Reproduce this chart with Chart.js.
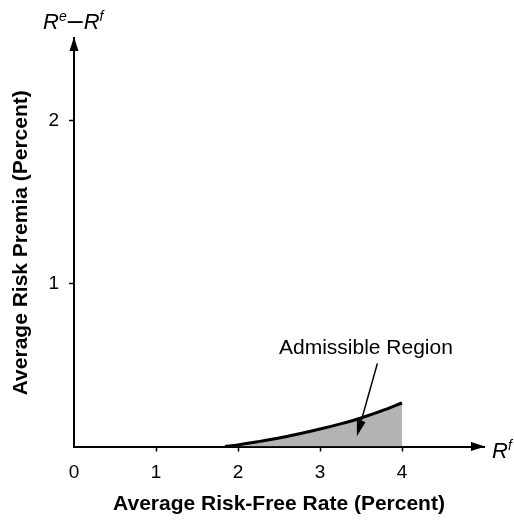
<!DOCTYPE html>
<html lang="en">

<head>
    <meta charset="UTF-8">
    <title>Admissible Region</title>
    <script src="https://cdn.jsdelivr.net/npm/chart.js"></script>
    <style>
        body { margin: 0; background: #fff; }
        #wrap { width: 514px; height: 523px; }
    </style>
</head>

<body>
    <div id="wrap"><canvas id="chartCanvas"></canvas></div>

    <script>
        // curve bounding the admissible region (risk-free rate vs. risk premium, percent)
        const curveX = [1.84, 2.0, 2.25, 2.5, 2.75, 3.0, 3.25, 3.5, 3.75, 4.0];
        const curveY = [0, 0.01, 0.03, 0.052, 0.078, 0.107, 0.139, 0.175, 0.218, 0.267];
        const xTickValues = [0, 1, 2, 3, 4];
        const yTickValues = [1, 2];

        const FONT = '"Liberation Sans", Arial, Helvetica, sans-serif';

        // annotation placement in data units
        const labelText = "Admissible Region";
        const labelAt = { x: 3.56, y: 0.6 };
        const pointerFrom = { x: 3.70, y: 0.51 };
        const pointerTo = { x: 3.45, y: 0.063 };

        function arrowHead(ctx, fx, fy, tx, ty, len, half) {
            const ang = Math.atan2(ty - fy, tx - fx);
            const bx = tx - len * Math.cos(ang), by = ty - len * Math.sin(ang);
            ctx.beginPath();
            ctx.moveTo(tx, ty);
            ctx.lineTo(bx + half * Math.sin(ang), by - half * Math.cos(ang));
            ctx.lineTo(bx - half * Math.sin(ang), by + half * Math.cos(ang));
            ctx.closePath();
            ctx.fill();
        }

        // draws math-ish labels, parts = [[text, sup?, plainFont?], ...]
        function drawMath(ctx, parts, x, base) {
            parts.forEach(([t, sup, plain]) => {
                if (plain) ctx.font = '27px ' + FONT;
                else ctx.font = 'italic ' + (sup ? '14px ' : '22px ') + FONT;
                ctx.fillText(t, x, sup ? base - 8 : base);
                x += ctx.measureText(t).width + (sup ? 1 : 0) + (plain ? 1 : 0);
            });
        }

        const overlay = {
            id: 'overlay',
            afterDraw(chart) {
                const { ctx, chartArea: a, scales: { x, y } } = chart;
                const y0 = y.getPixelForValue(0);
                const x0 = x.getPixelForValue(0);
                ctx.save();
                ctx.fillStyle = '#000';
                ctx.strokeStyle = '#000';

                // axis arrows
                ctx.lineWidth = 2;
                ctx.beginPath();
                ctx.moveTo(x0, a.top + 5);
                ctx.lineTo(x0, a.top - 2);
                ctx.stroke();
                arrowHead(ctx, x0, a.top + 20, x0, a.top - 2, 14, 4.5);
                arrowHead(ctx, a.right - 20, y0, a.right + 1, y0, 14, 4.5);

                // axis symbols
                ctx.textAlign = 'left';
                ctx.textBaseline = 'alphabetic';
                drawMath(ctx, [['R'], ['e', true], ['\u2013', false, true], ['R'], ['f', true]], 43, 29);
                drawMath(ctx, [['R'], ['f', true]], 492, 458);

                // annotation
                ctx.font = '21px ' + FONT;
                ctx.textAlign = 'center';
                ctx.textBaseline = 'middle';
                ctx.fillText(labelText, x.getPixelForValue(labelAt.x), y.getPixelForValue(labelAt.y));

                const fx = x.getPixelForValue(pointerFrom.x), fy = y.getPixelForValue(pointerFrom.y);
                const tx = x.getPixelForValue(pointerTo.x), ty = y.getPixelForValue(pointerTo.y);
                ctx.lineWidth = 1.5;
                ctx.beginPath();
                ctx.moveTo(fx, fy);
                ctx.lineTo(fx + (tx - fx) * 0.85, fy + (ty - fy) * 0.85);
                ctx.stroke();
                arrowHead(ctx, fx, fy, tx, ty, 16, 4.5);
                ctx.restore();
            }
        };

        const ctx = document.getElementById("chartCanvas").getContext("2d");
        new Chart(ctx, {
            type: "line",
            data: {
                datasets: [{
                    data: curveX.map((v, i) => ({ x: v, y: curveY[i] })),
                    borderColor: "#000",
                    borderWidth: 3,
                    backgroundColor: "#b3b3b3",
                    fill: "origin",
                    pointRadius: 0,
                    cubicInterpolationMode: "monotone"
                }]
            },
            options: {
                responsive: true,
                maintainAspectRatio: false,
                animation: false,
                layout: { padding: { top: 39, right: 30, left: 0, bottom: 0 } },
                plugins: { legend: { display: false }, tooltip: { enabled: false } },
                scales: {
                    x: {
                        type: "linear",
                        min: 0,
                        max: 5,
                        afterBuildTicks: s => { s.ticks = xTickValues.map(v => ({ value: v })); },
                        afterFit: s => { s.height = 76.5; },
                        border: { display: true, color: "#000", width: 2 },
                        grid: {
                            drawOnChartArea: false,
                            drawTicks: true,
                            tickLength: 5,
                            tickWidth: 1.5,
                            tickColor: c => (c.tick && c.tick.value === 0 ? "rgba(0,0,0,0)" : "#000")
                        },
                        ticks: {
                            color: "#000",
                            padding: 10,
                            maxRotation: 0,
                            font: { family: FONT, size: 19 },
                            callback: v => String(v)
                        },
                        title: {
                            display: true,
                            text: "Average Risk-Free Rate (Percent)",
                            color: "#000",
                            font: { family: FONT, size: 21, weight: "bold" },
                            padding: { top: 0, bottom: 6 }
                        }
                    },
                    y: {
                        type: "linear",
                        min: 0,
                        max: 2.5,
                        afterBuildTicks: s => { s.ticks = yTickValues.map(v => ({ value: v })); },
                        afterFit: s => { s.width = 74; },
                        border: { display: true, color: "#000", width: 2 },
                        grid: {
                            drawOnChartArea: false,
                            drawTicks: true,
                            tickLength: 5,
                            tickWidth: 1.5,
                            tickColor: "#000"
                        },
                        ticks: {
                            color: "#000",
                            padding: 10,
                            font: { family: FONT, size: 19 },
                            callback: v => String(v)
                        },
                        title: {
                            display: true,
                            text: "Average Risk Premia (Percent)",
                            color: "#000",
                            font: { family: FONT, size: 21, weight: "bold" },
                            padding: { top: 9, bottom: 0 }
                        }
                    }
                }
            },
            plugins: [overlay]
        });
    </script>
</body>

</html>
